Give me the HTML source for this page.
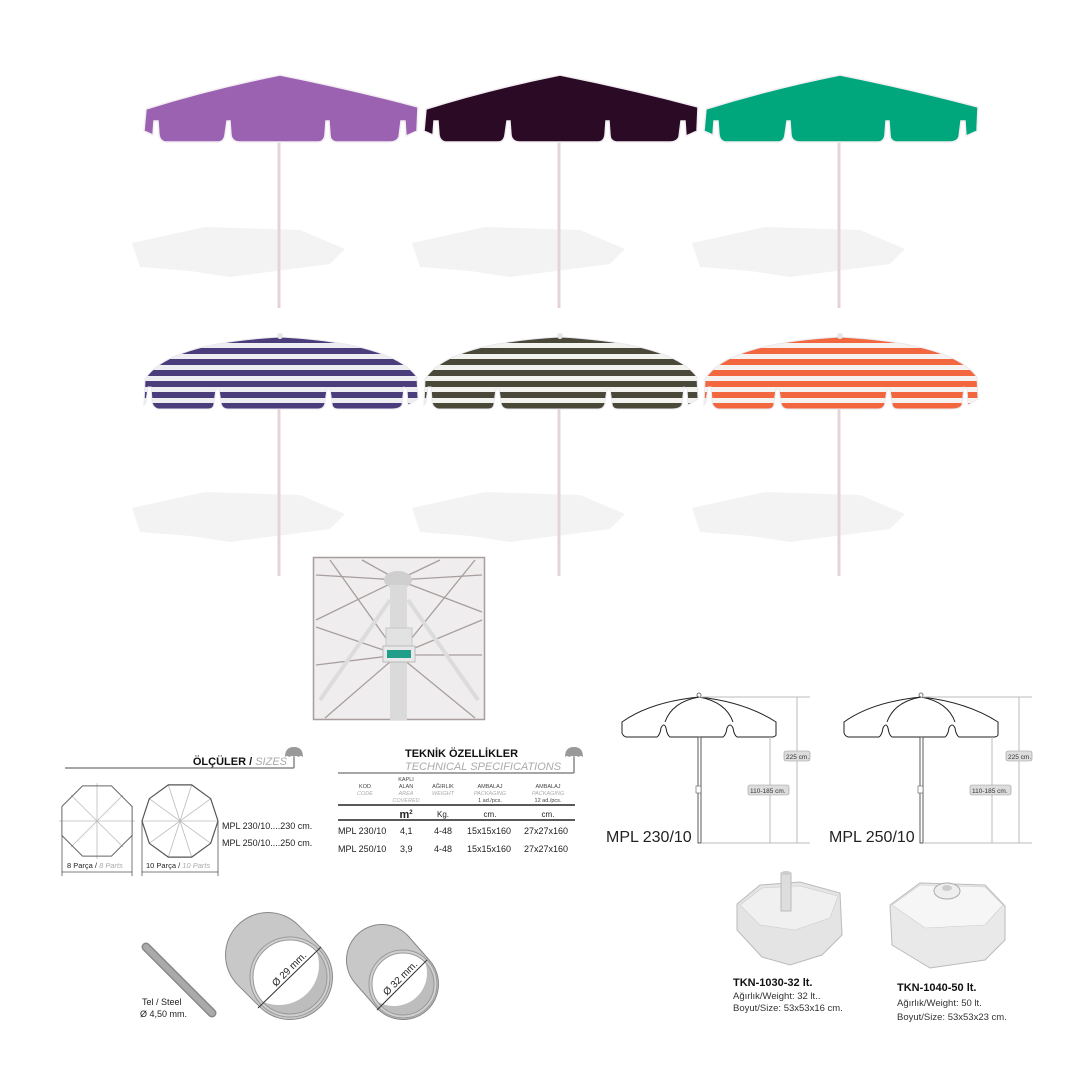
<!DOCTYPE html>
<html><head><meta charset="utf-8"><style>
html,body{margin:0;padding:0;background:#fff}
svg{display:block;font-family:"Liberation Sans",sans-serif}
</style></head><body>
<svg width="1080" height="1080" viewBox="0 0 1080 1080" xmlns="http://www.w3.org/2000/svg">
<defs>
<path id="solid" d="M-134,34 Q-70,14 0,0 Q70,14 138,32 L137,56 L126,61 L125,46 L121,46 L119,62 Q117,67 110,67 L56,67 Q50,66 50,60 L49,46 L46,46 L45,60 Q44,67 38,67 L-40,67 Q-48,67 -49,60 L-50,46 L-53,46 L-55,60 Q-56,67 -62,67 L-115,67 Q-120,66 -121,60 L-122,46 L-126,46 L-127,60 L-136,56 Z"/>
<path id="striped" d="M-135,42 Q-112,6 0,0 Q112,6 137,40 L138,62 L128,68 L127,52 L124,50 L122,68 Q120,72 112,72 L58,72 Q52,72 52,66 L50,52 L47,52 L45,66 Q44,72 38,72 L-52,72 Q-58,72 -59,66 L-61,52 L-64,52 L-66,66 Q-66,72 -72,72 L-122,72 Q-128,70 -128,64 L-129,50 L-132,50 L-134,65 L-136,68 Z"/>
<path id="shadow" d="M-148,46 L-75,30 L20,33 L65,52 L50,67 L-50,80 L-90,74 L-140,70 Z"/>
<pattern id="sp1" width="10" height="11" patternUnits="userSpaceOnUse"><rect width="10" height="11" fill="#eeeef2"/><rect width="10" height="6" fill="#4b3c7c"/></pattern>
<pattern id="sp2" width="10" height="11" patternUnits="userSpaceOnUse"><rect width="10" height="11" fill="#f2f2ee"/><rect width="10" height="6" fill="#4a4839"/></pattern>
<pattern id="sp3" width="10" height="11" patternUnits="userSpaceOnUse"><rect width="10" height="11" fill="#f6f2f0"/><rect width="10" height="6" fill="#f2673e"/></pattern>
<path id="icon" d="M-9,0 Q-9,-10 0,-10 Q9,-10 9,0 Q7,-2 4.5,0 Q2,-2 0,0 Q-2,-2 -4.5,0 Q-7,-2 -9,0 Z"/>
<clipPath id="in1"><circle cx="290" cy="977" r="37"/></clipPath>
<clipPath id="in2"><circle cx="403" cy="984" r="31"/></clipPath>
</defs>

<g fill="#f4f3f3">
<use href="#shadow" x="280" y="197"/><use href="#shadow" x="560" y="197"/><use href="#shadow" x="840" y="197"/>
<use href="#shadow" x="280" y="462"/><use href="#shadow" x="560" y="462"/><use href="#shadow" x="840" y="462"/>
</g>
<g stroke="#e4d4d8" stroke-width="3">
<line x1="279" y1="140" x2="279" y2="308"/><line x1="559" y1="140" x2="559" y2="308"/><line x1="839" y1="140" x2="839" y2="308"/>
<line x1="279" y1="405" x2="279" y2="576"/><line x1="559" y1="405" x2="559" y2="576"/><line x1="839" y1="405" x2="839" y2="576"/>
</g>
<use href="#solid" x="280" y="75" fill="#9b62b2" stroke="#f2eef2" stroke-width="1.5"/>
<use href="#solid" x="560" y="75" fill="#2b0a26" stroke="#f2eef2" stroke-width="1.5"/>
<use href="#solid" x="840" y="75" fill="#00a77c" stroke="#f2eef2" stroke-width="1.5"/>
<use href="#striped" x="280" y="337" fill="url(#sp1)" stroke="#e8e8ee" stroke-width="1"/>
<use href="#striped" x="560" y="337" fill="url(#sp2)" stroke="#e8e8ee" stroke-width="1"/>
<use href="#striped" x="840" y="337" fill="url(#sp3)" stroke="#e8e8ee" stroke-width="1"/>
<g fill="#e6e6e6"><circle cx="280" cy="336" r="3"/><circle cx="560" cy="336" r="3"/><circle cx="840" cy="336" r="3"/></g>

<!-- photo -->
<rect x="313.5" y="557.5" width="171" height="162" fill="#efeded" stroke="#a89c9c" stroke-width="1.5"/>
<g stroke="#a89e9e" stroke-width="1.3">
<line x1="398" y1="580" x2="316" y2="575"/><line x1="398" y1="580" x2="482" y2="575"/>
<line x1="398" y1="580" x2="362" y2="560"/><line x1="398" y1="580" x2="440" y2="560"/>
<line x1="398" y1="580" x2="316" y2="620"/><line x1="398" y1="580" x2="482" y2="612"/>
<line x1="398" y1="655" x2="316" y2="627"/><line x1="398" y1="655" x2="482" y2="620"/>
<line x1="398" y1="655" x2="316" y2="665"/><line x1="398" y1="655" x2="482" y2="655"/>
<line x1="398" y1="655" x2="325" y2="718"/><line x1="398" y1="655" x2="475" y2="718"/>
<line x1="398" y1="655" x2="330" y2="560"/><line x1="398" y1="655" x2="475" y2="560"/>
</g>
<g stroke="#dcdcdc" stroke-width="4"><line x1="390" y1="600" x2="320" y2="700"/><line x1="408" y1="600" x2="478" y2="700"/></g>
<ellipse cx="398" cy="580" rx="14" ry="9" fill="#cfcfcf"/>
<rect x="390" y="585" width="17" height="135" fill="#dadada"/>
<rect x="386" y="628" width="26" height="20" fill="#e2e2e2" stroke="#c8c8c8"/>
<rect x="383" y="646" width="32" height="16" fill="#e8e8e8" stroke="#bbb"/>
<rect x="387" y="650" width="24" height="8" fill="#1f9e8a"/>

<!-- Sizes -->
<line x1="65" y1="768" x2="294" y2="768" stroke="#888" stroke-width="1.5"/>
<line x1="294" y1="757" x2="294" y2="768" stroke="#888" stroke-width="1.5"/>
<use href="#icon" x="294" y="757" fill="#999"/>
<text x="287" y="765" font-size="11" font-weight="bold" text-anchor="end" fill="#111">ÖLÇÜLER / <tspan fill="#aaa" font-style="italic" font-weight="normal">SIZES</tspan></text>
<g transform="translate(97,821)" fill="none">
<g stroke="#bbb" stroke-width="0.8"><line x1="-38" y1="0" x2="38" y2="0"/><line x1="0" y1="-38" x2="0" y2="38"/><line x1="-26" y1="-26" x2="26" y2="26"/><line x1="-26" y1="26" x2="26" y2="-26"/></g>
<polygon points="35.1,14.5 14.5,35.1 -14.5,35.1 -35.1,14.5 -35.1,-14.5 -14.5,-35.1 14.5,-35.1 35.1,-14.5" stroke="#666" stroke-width="1"/>
</g>
<g transform="translate(180,821)" fill="none">
<g stroke="#bbb" stroke-width="0.8"><line x1="-38" y1="0" x2="38" y2="0"/><line x1="30.7" y1="22.3" x2="-30.7" y2="-22.3"/><line x1="11.7" y1="36.1" x2="-11.7" y2="-36.1"/><line x1="-11.7" y1="36.1" x2="11.7" y2="-36.1"/><line x1="-30.7" y1="22.3" x2="30.7" y2="-22.3"/></g>
<polygon points="38,0 30.7,22.3 11.7,36.1 -11.7,36.1 -30.7,22.3 -38,0 -30.7,-22.3 -11.7,-36.1 11.7,-36.1 30.7,-22.3" stroke="#555" stroke-width="1.2"/>
</g>
<g stroke="#555" stroke-width="0.8">
<line x1="62" y1="872" x2="132" y2="872"/><line x1="62" y1="835" x2="62" y2="876"/><line x1="132" y1="835" x2="132" y2="876"/>
<line x1="142" y1="872" x2="218" y2="872"/><line x1="142" y1="821" x2="142" y2="876"/><line x1="218" y1="821" x2="218" y2="876"/>
</g>
<g font-size="7.5" fill="#222">
<text x="67" y="868">8 Parça / <tspan fill="#aaa" font-style="italic">8 Parts</tspan></text>
<text x="146" y="868">10 Parça / <tspan fill="#aaa" font-style="italic">10 Parts</tspan></text>
</g>
<g font-size="9" fill="#222"><text x="222" y="829">MPL 230/10....230 cm.</text><text x="222" y="846">MPL 250/10....250 cm.</text></g>

<!-- Tech specs -->
<text x="405" y="757" font-size="11" font-weight="bold" fill="#111">TEKNİK ÖZELLİKLER</text>
<text x="405" y="770" font-size="11" font-style="italic" fill="#aaa">TECHNICAL SPECIFICATIONS</text>
<line x1="338" y1="773" x2="574" y2="773" stroke="#888" stroke-width="1.5"/>
<line x1="574" y1="757" x2="574" y2="773" stroke="#888" stroke-width="1.5"/>
<use href="#icon" x="574" y="757" fill="#999"/>
<g font-size="5.5" text-anchor="middle" fill="#444">
<text x="365" y="788">KOD</text><text x="365" y="795" font-style="italic" fill="#aaa">CODE</text>
<text x="406" y="781">KAPLI</text><text x="406" y="788">ALAN</text><text x="406" y="795" font-style="italic" fill="#aaa">AREA</text><text x="406" y="802" font-style="italic" fill="#aaa">COVERED</text>
<text x="443" y="788">AĞIRLIK</text><text x="443" y="795" font-style="italic" fill="#aaa">WEIGHT</text>
<text x="490" y="788">AMBALAJ</text><text x="490" y="795" font-style="italic" fill="#aaa">PACKAGING</text><text x="490" y="802">1 ad./pcs.</text>
<text x="548" y="788">AMBALAJ</text><text x="548" y="795" font-style="italic" fill="#aaa">PACKAGING</text><text x="548" y="802">12 ad./pcs.</text>
</g>
<line x1="338" y1="805" x2="575" y2="805" stroke="#222" stroke-width="1.5"/>
<g font-size="8" text-anchor="middle" fill="#222">
<text x="406" y="818" font-size="11" font-weight="bold">m<tspan font-size="6" dy="-4">2</tspan></text>
<text x="443" y="817">Kg.</text><text x="490" y="817">cm.</text><text x="548" y="817">cm.</text>
</g>
<line x1="338" y1="820" x2="575" y2="820" stroke="#222" stroke-width="1.5"/>
<g font-size="9" fill="#222">
<text x="338" y="834">MPL 230/10</text><text x="400" y="834">4,1</text><text x="434" y="834">4-48</text><text x="467" y="834">15x15x160</text><text x="524" y="834">27x27x160</text>
<text x="338" y="852">MPL 250/10</text><text x="400" y="852">3,9</text><text x="434" y="852">4-48</text><text x="467" y="852">15x15x160</text><text x="524" y="852">27x27x160</text>
</g>

<!-- Line drawings -->
<g id="ld">
<g fill="none" stroke="#222" stroke-width="1">
<path d="M622,722 Q650,702 699,697 Q745,702 776,722 L776,735 Q776,736 773,737 L737,737 Q734,735 733,728 Q730,722 727,728 Q726,735 723,737 L670,737 Q667,735 666,728 Q664,722 661,728 Q660,735 657,737 L626,737 Q623,736 622,733 Z"/>
<path d="M665,722 Q672,702 699,697 Q726,702 733,722"/>
</g>
<circle cx="699" cy="695" r="2" fill="none" stroke="#555" stroke-width="0.8"/>
<line x1="699" y1="697" x2="810" y2="697" stroke="#bbb" stroke-width="1"/>
<rect x="698" y="737" width="3" height="106" fill="#fff" stroke="#333" stroke-width="0.8"/>
<rect x="696" y="786" width="5" height="7" fill="#fff" stroke="#555" stroke-width="0.6"/>
<g stroke="#bbb" stroke-width="1"><line x1="797" y1="697" x2="797" y2="843"/><line x1="770" y1="737" x2="770" y2="843"/><line x1="701" y1="843" x2="810" y2="843"/></g>
<rect x="784" y="751" width="26" height="10" rx="2" fill="#ddd" stroke="#999" stroke-width="0.6"/>
<text x="786" y="759" font-size="6.5" fill="#333">225 cm.</text>
<rect x="748" y="785" width="41" height="10" rx="2" fill="#ddd" stroke="#999" stroke-width="0.6"/>
<text x="750" y="793" font-size="6.5" fill="#333">110-185 cm.</text>
</g>
<use href="#ld" x="222"/>
<text x="606" y="842" font-size="16" fill="#222">MPL 230/10</text>
<text x="829" y="842" font-size="16" fill="#222">MPL 250/10</text>

<!-- Bases -->
<g>
<polygon points="737,904 760,885 800,882 840,893 842,935 822,955 790,965 762,957 737,930" fill="#e4e4e4" stroke="#bbb"/>
<polygon points="740,905 762,888 800,886 838,896 830,918 795,930 760,925" fill="#f0f0f0" stroke="#ccc" stroke-width="0.6"/>
<rect x="781" y="873" width="10" height="38" fill="#ddd" stroke="#bbb"/>
<ellipse cx="786" cy="873" rx="5" ry="2" fill="#ccc"/>
<polygon points="890,905 920,883 985,885 1005,906 1005,940 985,960 930,968 892,945" fill="#e9e9e9" stroke="#bbb"/>
<polygon points="892,905 920,885 985,887 1003,905 985,925 925,928" fill="#f6f6f6" stroke="#ccc" stroke-width="0.6"/>
<ellipse cx="947" cy="891" rx="13" ry="8" fill="#eee" stroke="#aaa"/>
<ellipse cx="947" cy="888" rx="5" ry="3" fill="#ccc"/>
</g>
<text x="733" y="986" font-size="11" font-weight="bold" fill="#111">TKN-1030-32 lt.</text>
<g font-size="9.5" fill="#333"><text x="733" y="999">Ağırlık/Weight: 32 lt..</text><text x="733" y="1011">Boyut/Size: 53x53x16 cm.</text></g>
<text x="897" y="991" font-size="11" font-weight="bold" fill="#111">TKN-1040-50 lt.</text>
<g font-size="9.5" fill="#333"><text x="897" y="1006">Ağırlık/Weight: 50 lt.</text><text x="897" y="1020">Boyut/Size: 53x53x23 cm.</text></g>

<!-- Steel -->
<line x1="146" y1="947" x2="212" y2="1013" stroke="#888" stroke-width="9" stroke-linecap="round"/>
<line x1="146" y1="947" x2="212" y2="1013" stroke="#aaa" stroke-width="6" stroke-linecap="round"/>
<g font-size="9" fill="#222"><text x="142" y="1005">Tel / Steel</text><text x="140" y="1017">Ø 4,50 mm.</text></g>

<!-- Tube 1 -->
<line x1="268" y1="955" x2="290" y2="977" stroke="#888" stroke-width="86" stroke-linecap="round"/>
<line x1="268" y1="955" x2="290" y2="977" stroke="#c8c8c8" stroke-width="84" stroke-linecap="round"/>
<circle cx="290" cy="977" r="40" fill="#d0d0d0" stroke="#999" stroke-width="1"/>
<g clip-path="url(#in1)"><rect x="240" y="930" width="100" height="100" fill="#bdbdbd"/><circle cx="279" cy="965" r="40" fill="#fff"/></g>
<circle cx="290" cy="977" r="37" fill="none" stroke="#999" stroke-width="1"/>
<line x1="258" y1="1008" x2="321" y2="947" stroke="#333" stroke-width="1"/>
<text x="276" y="987" font-size="10" fill="#222" transform="rotate(-45 276 987)">Ø 29 mm.</text>

<!-- Tube 2 -->
<line x1="382" y1="960" x2="403" y2="984" stroke="#888" stroke-width="72" stroke-linecap="round"/>
<line x1="382" y1="960" x2="403" y2="984" stroke="#c8c8c8" stroke-width="70" stroke-linecap="round"/>
<circle cx="403" cy="984" r="34" fill="#d0d0d0" stroke="#999" stroke-width="1"/>
<g clip-path="url(#in2)"><rect x="360" y="940" width="90" height="90" fill="#bdbdbd"/><circle cx="394" cy="973" r="33" fill="#fff"/></g>
<circle cx="403" cy="984" r="31" fill="none" stroke="#999" stroke-width="1"/>
<line x1="377" y1="1010" x2="427" y2="960" stroke="#333" stroke-width="1"/>
<text x="387" y="996" font-size="10" fill="#222" transform="rotate(-45 387 996)">Ø 32 mm.</text>
</svg>
</body></html>
